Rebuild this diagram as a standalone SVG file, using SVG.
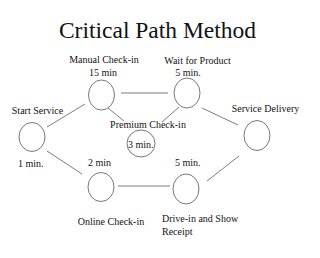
<svg xmlns="http://www.w3.org/2000/svg" width="320" height="258" viewBox="0 0 320 258">
<style>
text{fill:#111;font-size:10px}
.t{font-size:23.5px}
.c{text-anchor:middle}
ellipse{fill:#fff;stroke:#555;stroke-width:0.8}
line{stroke:#444;stroke-width:0.7}
</style>
<rect width="320" height="258" fill="#fff"/>
<g font-family="'Liberation Serif', 'DejaVu Serif', serif">
<text class="t c" x="157.5" y="38">Critical Path Method</text>
<g id="connectors">
<line x1="121" y1="93" x2="168" y2="93"/>
<line x1="47" y1="127" x2="85" y2="104"/>
<line x1="108" y1="108" x2="124" y2="121"/>
<line x1="179" y1="107" x2="162" y2="122"/>
<line x1="202" y1="108" x2="238" y2="125"/>
<line x1="47" y1="151" x2="82" y2="174"/>
<line x1="118" y1="186" x2="170" y2="186"/>
<line x1="207" y1="181" x2="239" y2="156"/>
</g>
<g id="start">
<ellipse cx="32" cy="137" rx="13" ry="14.5"/>
<text class="c" x="37.5" y="114">Start Service</text>
<text x="18" y="167">1 min.</text>
</g>
<g id="manual">
<ellipse cx="101.5" cy="95" rx="13" ry="15"/>
<text class="c" x="104" y="63">Manual Check-in</text>
<text class="c" x="103" y="76">15 min</text>
</g>
<g id="wait">
<ellipse cx="187" cy="93" rx="13" ry="15"/>
<text class="c" x="197.5" y="64">Wait for Product</text>
<text class="c" x="188" y="76">5 min.</text>
</g>
<g id="premium">
<ellipse cx="141" cy="143.5" rx="14" ry="13.5"/>
<text class="c" x="148" y="128">Premium Check-in</text>
<text x="128" y="148">3 min.</text>
</g>
<g id="delivery">
<ellipse cx="257" cy="135.5" rx="13" ry="15"/>
<text class="c" x="265.5" y="112">Service Delivery</text>
</g>
<g id="online">
<ellipse cx="101" cy="187" rx="13" ry="14.5"/>
<text x="88" y="166">2 min</text>
<text class="c" x="111" y="225">Online Check-in</text>
</g>
<g id="drive">
<ellipse cx="186" cy="189" rx="13" ry="15"/>
<text x="175" y="166">5 min.</text>
<text x="162" y="222">Drive-in and Show</text>
<text x="162" y="235">Receipt</text>
</g>
</g>
</svg>
